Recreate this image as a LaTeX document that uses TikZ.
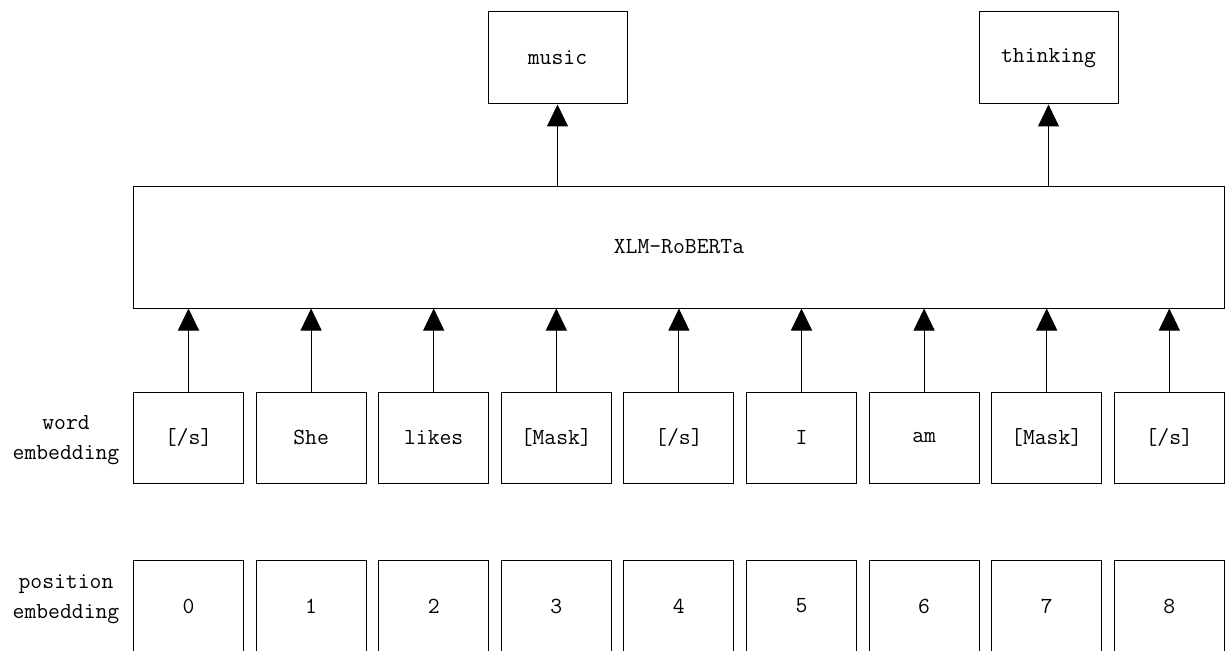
\documentclass[tikz,border=0pt]{standalone}
\usepackage{fontspec}
\usetikzlibrary{arrows.meta}
\begin{document}
\begin{tikzpicture}[x=1pt,y=-1pt,
  every node/.style={font=\ttfamily\fontsize{23}{30}\selectfont},
  cell/.style={draw, line width=1pt, minimum width=110pt, minimum height=91pt, inner sep=0pt},
  outbox/.style={draw, line width=1pt, minimum width=139pt, minimum height=92pt, inner sep=0pt},
  rowlabel/.style={align=center, inner sep=0pt},
  uparrow/.style={line width=1pt, -{Triangle[length=22pt,width=21pt]}}]
  \useasboundingbox (0,0) rectangle (1225,650);

  % encoder block
  \node[draw, line width=1pt, minimum width=1091pt, minimum height=122pt, inner sep=0pt]
    (xlm) at (679,247) {XLM-RoBERTa};

  % predicted tokens
  \node[outbox] (music) at (557.5,58) {music};
  \node[outbox] (thinking) at (1048.5,58) {thinking};
  \draw[uparrow] (music.south |- xlm.north) -- (music.south);
  \draw[uparrow] (thinking.south |- xlm.north) -- (thinking.south);

  % row labels
  \node[rowlabel] (wl) at (66,440) {word\\embedding};
  \node[rowlabel] (pl) at (66,599) {position\\embedding};

  % token and position cells
  \foreach \t [count=\i from 0] in {{[/s]},She,likes,{[Mask]},{[/s]},I,am,{[Mask]},{[/s]}} {
    \pgfmathsetmacro{\cx}{188.5+122.6*\i}
    \node[cell] (w\i) at (\cx,437.5) {\t};
    \node[cell] (p\i) at (\cx,606) {\i};
    \draw[uparrow] (w\i.north) -- (w\i.north |- xlm.south);
  }
\end{tikzpicture}
\end{document}
